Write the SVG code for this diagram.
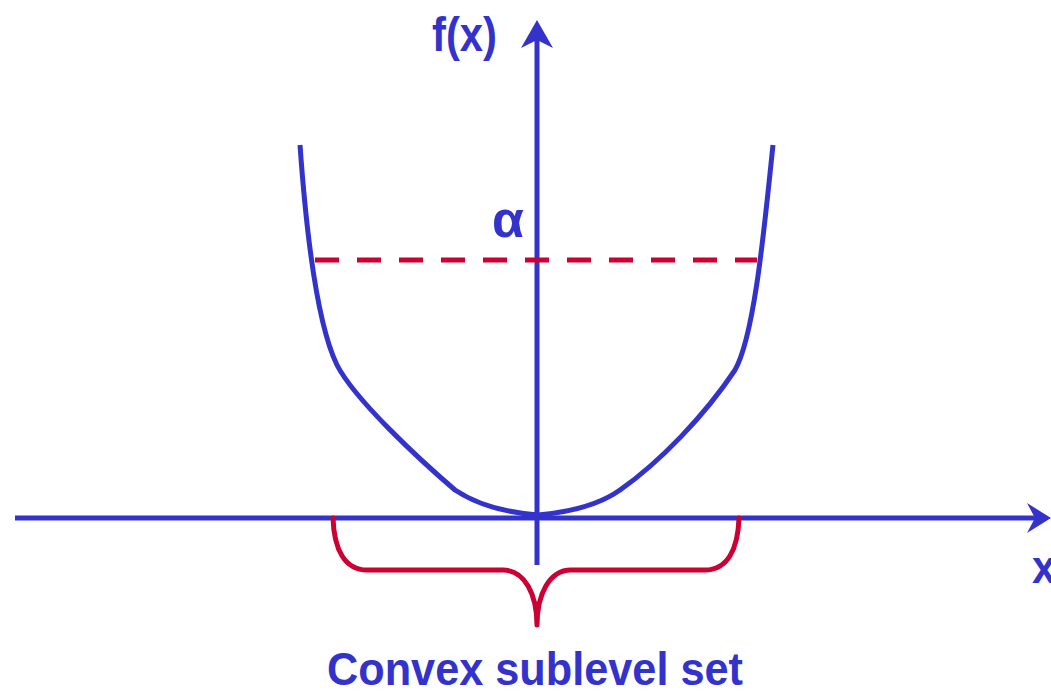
<svg xmlns="http://www.w3.org/2000/svg" width="1051" height="692" viewBox="0 0 1051 692">
<defs>
<style>
.ax{stroke:#3333CC;stroke-width:5;fill:none}
.head{fill:#3333CC}
.red{stroke:#CC0033;stroke-width:5;fill:none}
.lbl{font-family:"Liberation Sans Narrow","Arial Narrow","Liberation Sans",Arial,sans-serif;fill:#3333CC;font-weight:bold}
</style>
</defs>
<rect width="1051" height="692" fill="#FFFFFF"/>
<g id="connectors">
<line class="ax" x1="15" y1="518" x2="1038" y2="518"/>
<polygon class="head" points="1051,518 1027,503 1035,518 1027,533"/>
<line class="ax" x1="537" y1="565" x2="537" y2="36"/>
<polygon class="head" points="537,20 521,48 537,40 553,48"/>
</g>
<g id="curve">
<path class="ax" d="M300,145 C305,215 315,320 337,365 C355,400 420,460 455,490 C482,508 512,513 538,515 C560,513 595,508 620,490 C660,462 705,415 735,370 C755,335 765,220 773,145"/>
</g>
<g id="level">
<line class="red" x1="315" y1="260" x2="757" y2="260" stroke-dasharray="24,18"/>
</g>
<g id="brace">
<path class="red" d="M333,518 C334,550 345,570 367,570 L503,570 C525,570 537,595 537,625 C537,595 549,570 571,570 L705,570 C727,570 738,550 739,518" stroke-linecap="round" stroke-linejoin="round"/>
</g>
<g id="labels">
<text class="lbl" x="432" y="51" font-size="48" font-weight="normal" textLength="65" lengthAdjust="spacingAndGlyphs">f(x)</text>
<text class="lbl" x="492" y="237" font-size="52">α</text>
<text class="lbl" x="1032" y="583" font-size="46" textLength="24" lengthAdjust="spacingAndGlyphs">x</text>
<text class="lbl" x="327" y="685" font-size="47" textLength="416" lengthAdjust="spacingAndGlyphs">Convex sublevel set</text>
</g>
</svg>
